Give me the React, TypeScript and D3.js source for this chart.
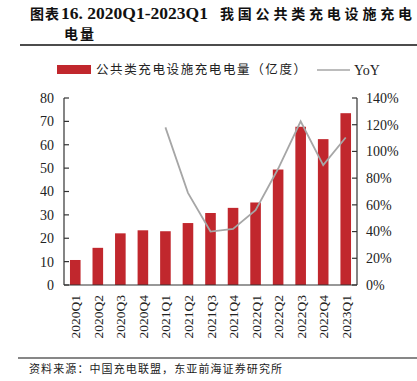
import React from "react";
import * as d3 from "d3";

const categories = ["2020Q1","2020Q2","2020Q3","2020Q4","2021Q1","2021Q2","2021Q3","2021Q4","2022Q1","2022Q2","2022Q3","2022Q4","2023Q1"];
const energy = [10.7, 15.9, 22.1, 23.4, 23.0, 26.5, 30.8, 33.0, 35.3, 49.4, 67.7, 62.4, 73.5];
const yoy: (number | null)[] = [null, null, null, null, 1.18, 0.69, 0.40, 0.42, 0.56, 0.87, 1.226, 0.897, 1.104];
const leftTicks = [0, 10, 20, 30, 40, 50, 60, 70, 80];
const rightTicks = [0, 0.2, 0.4, 0.6, 0.8, 1.0, 1.2, 1.4];

const W = 417, H = 381;
const plot = { left: 64, right: 357, top: 98, bottom: 285 };
const serif = "'Liberation Serif', 'DejaVu Serif', serif";
const cjk = "'Noto Sans CJK SC', sans-serif";
const axisColor = "#333";
const barColor = "#C1272D";
const lineColor = "#A6A6A6";

export default function App() {
  const x = d3.scaleBand<string>().domain(categories).range([plot.left, plot.right]).paddingInner(0.53).paddingOuter(0.265);
  const yL = d3.scaleLinear().domain([0, 80]).range([plot.bottom, plot.top]);
  const yR = d3.scaleLinear().domain([0, 1.4]).range([plot.bottom, plot.top]);
  const line = d3.line<[string, number | null]>()
    .defined(d => d[1] !== null)
    .x(d => (x(d[0]) as number) + x.bandwidth() / 2)
    .y(d => yR(d[1] as number));
  const pts = categories.map((c, i) => [c, yoy[i]] as [string, number | null]);

  return (
    <svg width={W} height={H} style={{ position: "absolute", left: 0, top: 0, background: "#fff" }}>
      <rect x={0} y={0} width={W} height={H} fill="#fff" />
      {/* title */}
      <text x={30} y={19} fontSize={14} fontWeight="bold" fill="#111" fontFamily={cjk} letterSpacing={1}>图表</text>
      <text x={61} y={19} fontSize={16} fontWeight="bold" fill="#111" fontFamily={serif} textLength={147} lengthAdjust="spacingAndGlyphs">16. 2020Q1-2023Q1</text>
      <text x={220} y={19} fontSize={14} fontWeight="bold" fill="#111" fontFamily={cjk} textLength={192} lengthAdjust="spacing">我国公共类充电设施充电</text>
      <g transform="translate(64,39)">
        <text x={0} y={0} fontSize={14} fontWeight="bold" fill="#111" fontFamily={cjk} letterSpacing={2}>电量</text>
      </g>
      <line x1={20} x2={417} y1={45} y2={45} stroke="#111" strokeWidth={1.6} />

      {/* legend */}
      <rect x={57} y={65} width={34} height={9} fill={barColor} />
      <text x={96} y={74} fontSize={12.5} fill="#222" fontFamily={cjk} textLength={210} lengthAdjust="spacing">公共类充电设施充电电量（亿度）</text>
      <line x1={317} x2={350} y1={70} y2={70} stroke={lineColor} strokeWidth={1.5} />
      <text x={354} y={75} fontSize={14} fill="#222" fontFamily={serif}>YoY</text>

      {/* bars */}
      {categories.map((c, i) => (
        <rect key={c} x={x(c)} y={yL(energy[i])} width={x.bandwidth()} height={plot.bottom - yL(energy[i])} fill={barColor} />
      ))}
      {/* line */}
      <path d={line(pts) || ""} fill="none" stroke={lineColor} strokeWidth={1.8} />

      {/* axes */}
      <line x1={plot.left} x2={plot.left} y1={plot.top} y2={plot.bottom} stroke={axisColor} strokeWidth={1.2} />
      <line x1={plot.right} x2={plot.right} y1={plot.top} y2={plot.bottom} stroke={axisColor} strokeWidth={1.2} />
      <line x1={plot.left} x2={plot.right} y1={plot.bottom} y2={plot.bottom} stroke={axisColor} strokeWidth={1.2} />
      {leftTicks.map(t => (
        <g key={"l" + t}>
          <line x1={plot.left} x2={plot.left + 5} y1={yL(t)} y2={yL(t)} stroke={axisColor} strokeWidth={1.2} />
          <text x={54} y={yL(t)} dy="0.35em" textAnchor="end" fontSize={14} fontFamily={serif} fill="#222">{t}</text>
        </g>
      ))}
      {rightTicks.map(t => (
        <g key={"r" + t}>
          <line x1={plot.right - 5} x2={plot.right} y1={yR(t)} y2={yR(t)} stroke={axisColor} strokeWidth={1.2} />
          <text x={366} y={yR(t)} dy="0.35em" textAnchor="start" fontSize={14} fontFamily={serif} fill="#222">{Math.round(t * 100) + "%"}</text>
        </g>
      ))}
      {categories.map(c => {
        const cx = (x(c) as number) + x.bandwidth() / 2;
        return (
          <text key={"x" + c} transform={`translate(${cx + 5},295) rotate(-90)`} textAnchor="end" fontSize={13.5} fontFamily={serif} fill="#222">{c}</text>
        );
      })}

      {/* source */}
      <line x1={18} x2={417} y1={358} y2={358} stroke="#111" strokeWidth={1.2} />
      <text x={29} y={373} fontSize={11} fill="#222" fontFamily={cjk} textLength={253} lengthAdjust="spacing">资料来源：中国充电联盟，东亚前海证券研究所</text>
    </svg>
  );
}
